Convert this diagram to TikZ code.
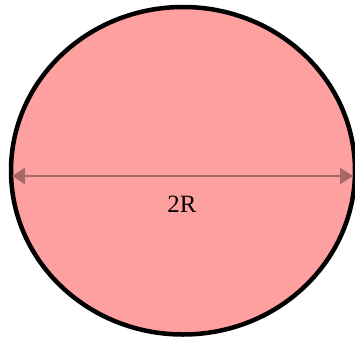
\documentclass[tikz,border=0pt]{standalone}
\usepackage{fontspec}
\setmainfont{Liberation Serif}
\usetikzlibrary{arrows.meta, positioning, shapes.geometric}
\definecolor{diskpink}{HTML}{FFA0A0}
\definecolor{dimred}{HTML}{A86868}

\begin{document}
\begin{tikzpicture}[
    x=1pt, y=1pt,
    disk/.style  = {ellipse, draw=black, line width=4.5pt, fill=diskpink,
                    minimum width=344pt, minimum height=327.5pt, inner sep=0pt},
    dim/.style   = {{Triangle[length=13pt,width=16pt]}-{Triangle[length=13pt,width=16pt]},
                    line width=2pt, color=dimred},
    lbl/.style   = {inner sep=0pt, font=\Huge}
  ]
  \useasboundingbox (0,0) rectangle (355,338);

  % ── Disk ──────────────────────────────────────────────────────────────────
  \node[disk] (circ) at (183,167.25) {};

  % ── Diameter ──────────────────────────────────────────────────────────────
  \coordinate (dleft)  at (12,162);
  \coordinate (dright) at (353,162);
  \draw[dim] (dleft) -- (dright);
  \node[lbl] (diam) at (182,134) {2R};

\end{tikzpicture}
\end{document}
